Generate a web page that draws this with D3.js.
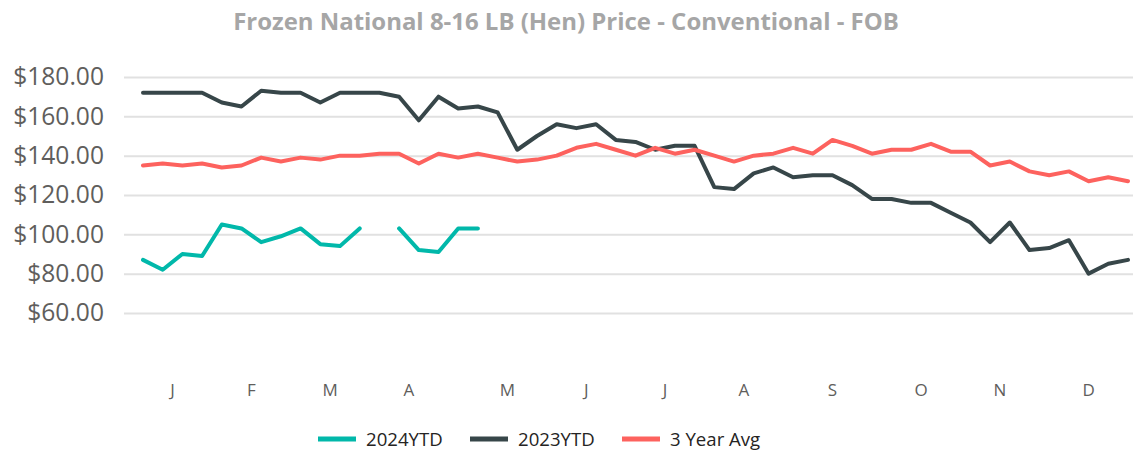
<!DOCTYPE html>
<html>
<head>
<meta charset="utf-8">
<script src="https://cdn.jsdelivr.net/npm/d3@7"></script>
<style>
  body { margin: 0; background: #fff; }
  svg { display: block; font-family: "Open Sans", "Segoe UI", sans-serif; }
</style>
</head>
<body>
<div id="chart"></div>
<script>
const WIDTH = 1133, HEIGHT = 454;

// weekly prices, 51 weeks
const avg3yr = [135, 136, 135, 136, 134, 135, 139, 137, 139, 138, 140, 140, 141, 141, 136, 141,
  139, 141, 139, 137, 138, 140, 144, 146, 143, 140, 144, 141, 143, 140, 137, 140, 141,
  144, 141, 148, 145, 141, 143, 143, 146, 142, 142, 135, 137, 132, 130, 132, 127, 129, 127];
const ytd2023 = [172, 172, 172, 172, 167, 165, 173, 172, 172, 167, 172, 172, 172, 170, 158, 170,
  164, 165, 162, 143, 150, 156, 154, 156, 148, 147, 143, 145, 145, 124, 123, 131, 134,
  129, 130, 130, 125, 118, 118, 116, 116, 111, 106, 96, 106, 92, 93, 97, 80, 85, 87];
const ytd2024 = [87, 82, 90, 89, 105, 103, 96, 99, 103, 95, 94, 103, null, 103, 92, 91, 103, 103];

const months = ["J", "F", "M", "A", "M", "J", "J", "A", "S", "O", "N", "D"];
const monthWeek = [1.5, 5.5, 9.5, 13.5, 18.5, 22.5, 26.5, 30.5, 35, 39.5, 43.5, 48];
const yTicks = [60, 80, 100, 120, 140, 160, 180];

const series = [
  {name: "2024YTD", values: ytd2024, color: "#01B8AA"},
  {name: "2023YTD", values: ytd2023, color: "#374649"},
  {name: "3 Year Avg", values: avg3yr, color: "#FD625E"}
];

const svg = d3.select("#chart").append("svg")
    .attr("width", WIDTH)
    .attr("height", HEIGHT);

const x = d3.scaleLinear().domain([0, 50]).range([143, 1128]);
const y = d3.scaleLinear().domain([40, 180]).range([352.3, 77]);

// title
const title = svg.append("text")
    .attr("x", 566).attr("y", 30)
    .attr("text-anchor", "middle")
    .attr("font-weight", "bold")
    .attr("font-size", 20)
    .attr("fill", "#A6A6A6")
    .text("Frozen National 8-16 LB (Hen) Price - Conventional - FOB");
const tw = title.node().getComputedTextLength();
title.attr("font-size", 20 * 666 / tw);

// gridlines + y labels
const yAxis = svg.append("g")
    .attr("transform", "translate(124,0)")
    .call(d3.axisLeft(y).tickValues(yTicks).tickSize(-(WIDTH - 124))
      .tickFormat(d => "$" + d3.format(".2f")(d)).tickPadding(20));
yAxis.select(".domain").remove();
yAxis.selectAll(".tick line").attr("stroke", "#E1E1E1").attr("stroke-width", 2);
yAxis.selectAll(".tick text")
    .attr("font-size", 24.6)
    .attr("fill", "#605E5C")
    .attr("font-family", "'Open Sans', sans-serif");

// month labels
svg.append("g").selectAll("text")
  .data(months)
  .join("text")
    .attr("x", (d, i) => x(monthWeek[i]))
    .attr("y", 396)
    .attr("text-anchor", "middle")
    .attr("font-size", 17)
    .attr("fill", "#605E5C")
    .text(d => d);

// lines
const line = d3.line()
    .defined(d => d != null)
    .x((d, i) => x(i))
    .y(d => y(d));

svg.append("g").selectAll("path")
  .data(series)
  .join("path")
    .attr("d", d => line(d.values))
    .attr("fill", "none")
    .attr("stroke", d => d.color)
    .attr("stroke-width", 4)
    .attr("stroke-linejoin", "round")
    .attr("stroke-linecap", "round");

// legend
const legendX = [318, 470, 622];
const legend = svg.append("g").selectAll("g")
  .data(series)
  .join("g")
    .attr("transform", (d, i) => "translate(" + legendX[i] + ",439)");
legend.append("line")
    .attr("x1", 0).attr("x2", 38)
    .attr("stroke", d => d.color)
    .attr("stroke-width", 5);
legend.append("text")
    .attr("x", 48).attr("y", 7)
    .attr("font-size", 18.6)
    .attr("fill", "#252423")
    .text(d => d.name);
</script>
</body>
</html>
